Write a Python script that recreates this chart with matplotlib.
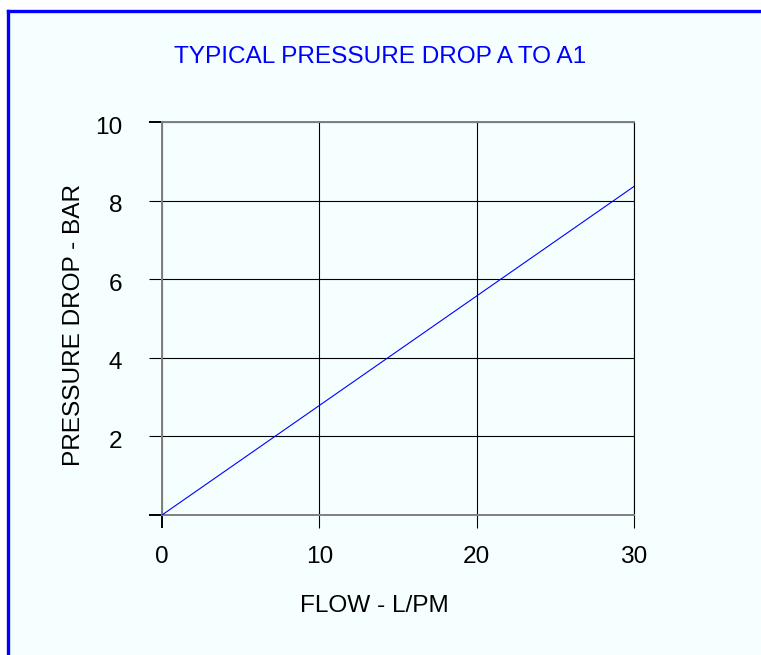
import matplotlib
matplotlib.use("Agg")
import matplotlib.pyplot as plt
import matplotlib.transforms as mtrans
from matplotlib.lines import Line2D
from matplotlib.patches import Rectangle

flow = [0, 30]
pressure = [0, 8.36]
x_ticks = [0, 10, 20, 30]
y_ticks = [0, 2, 4, 6, 8, 10]
y_tick_labels = ["", "2", "4", "6", "8", "10"]
title = "TYPICAL PRESSURE DROP A TO A1"
xlabel = "FLOW - L/PM"
ylabel = "PRESSURE DROP - BAR"

W, H = 761, 655
plt.rcParams['font.family'] = ['Liberation Sans', 'DejaVu Sans']
fig = plt.figure(figsize=(W / 100, H / 100), dpi=100)
fig.patch.set_facecolor("white")

bg = "#F5FFFF"
fs = 17.6
# panel background inside the blue border
fig.patches.append(Rectangle((7.5 / W, 0), 1, 1 - 10.5 / H, transform=fig.transFigure,
                             facecolor=bg, edgecolor="none", zorder=-10))
fig.lines.append(Line2D([7.5 / W, 7.5 / W], [0, 1 - 10.5 / H], transform=fig.transFigure,
                        color="#0000FF", lw=2.4, solid_capstyle="projecting"))
fig.lines.append(Line2D([7.5 / W, 1], [1 - 10.5 / H, 1 - 10.5 / H], transform=fig.transFigure,
                        color="#0000FF", lw=2.4, solid_capstyle="projecting"))

ax = fig.add_axes([162 / W, (H - 515) / H, 472 / W, 393 / H])
ax.set_facecolor(bg)
ax.plot(flow, pressure, color="#0000FF", lw=0.8, zorder=3)
ax.set_xlim(0, 30)
ax.set_ylim(0, 10)
ax.set_xticks(x_ticks)
ax.set_yticks(y_ticks)
ax.set_yticklabels(y_tick_labels)
ax.grid(True, color="black", lw=0.8)
ax.set_axisbelow(True)

gray = "#808080"
for s in ["left", "bottom", "top"]:
    ax.spines[s].set_color(gray)
    ax.spines[s].set_linewidth(1.4)
ax.spines["right"].set_color("black")
ax.spines["right"].set_linewidth(0.8)

ax.tick_params(axis="both", direction="out", length=9.5, width=0.8, color="black",
               labelsize=fs, labelcolor="black")
ax.tick_params(axis="y", pad=19)
ax.tick_params(axis="x", pad=13)
for t, v in zip(ax.yaxis.get_major_ticks(), y_ticks):
    if v in (0, 10):
        t.tick1line.set_color(gray)
        t.tick1line.set_markeredgewidth(1.4)
for t, v in zip(ax.xaxis.get_major_ticks(), x_ticks):
    if v == 0:
        t.tick1line.set_color(gray)
        t.tick1line.set_markeredgewidth(1.4)

shift = mtrans.ScaledTranslation(0, -3 / 100, fig.dpi_scale_trans)
for lab in ax.get_yticklabels():
    lab.set_transform(lab.get_transform() + shift)

fig.text(380 / W, 1 - 57 / H, title, color="#0000FF", fontsize=fs, ha="center", va="center")
fig.text(374 / W, 1 - 606 / H, xlabel, color="black", fontsize=fs, ha="center", va="center")
fig.text(74 / W, 1 - 325 / H, ylabel, color="black", fontsize=fs, ha="center", va="center",
         rotation=90)

fig.savefig("out.png", dpi=100, facecolor=fig.get_facecolor())
